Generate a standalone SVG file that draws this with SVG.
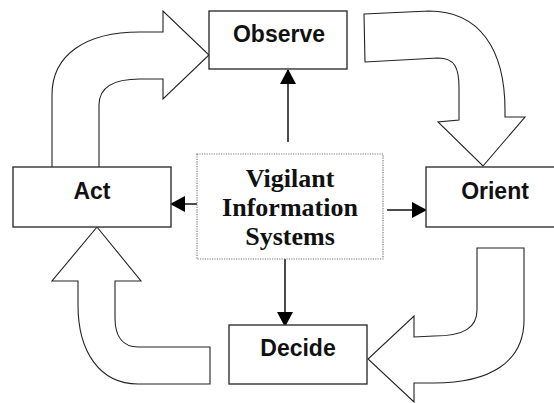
<svg xmlns="http://www.w3.org/2000/svg" width="554" height="403" viewBox="0 0 554 403">
<style>
.box{fill:#fff;stroke:#333;stroke-width:1.4}
.big{fill:#fff;stroke:#222;stroke-width:1.1;stroke-linejoin:miter}
.lbl{font-family:"Liberation Sans",Arial,sans-serif;font-weight:bold;font-size:23px;fill:#111;text-anchor:middle}
.ctr{font-family:"Liberation Serif","Times New Roman",serif;font-weight:bold;font-size:26px;fill:#111;text-anchor:middle}
.con{stroke:#111;stroke-width:1.5;fill:none;marker-end:url(#ah)}
</style>
<defs>
<marker id="ah" viewBox="0 0 15 16" refX="14" refY="8" markerWidth="15" markerHeight="16" orient="auto" markerUnits="userSpaceOnUse">
<path d="M0 0 L15 8 L0 16 Z" fill="#000"/>
</marker>
</defs>
<rect width="554" height="403" fill="#fff"/>
<g id="cycle-arrows">
<path id="act-to-observe" class="big" d="M52 168 L52 95 C52 55 85 32 140 32 L163 32 L163 11 L209 55 L163 99 L163 79 L140 79 C112 79 99 88 99 105 L99 168 Z"/>
<path id="observe-to-orient" class="big" d="M364 14 L429 11 C480 11 505 50 505 110 L505 117 L525 117 L483 166 L438 122 L459 120 L459 88 C459 68 455 58 438 58 L365 62 Z"/>
<path id="orient-to-decide" class="big" d="M477 248 L524 248 L524 320 C524 362 490 383 434 383 L414 383 L414 402 L368 359 L414 316 L414 337 L434 336 C465 336 477 327 477 310 Z"/>
<path id="decide-to-act" class="big" d="M210 347 L210 384 L138 384 C100 384 78 352 78 305 L78 281 L52 281 L97 227 L141 281 L115 281 L115 318 C115 338 124 347 138 347 Z"/>
</g>
<g id="connectors">
<line class="con" x1="288" y1="142" x2="288" y2="70"/>
<line class="con" x1="197" y1="204" x2="171" y2="204"/>
<line class="con" x1="387" y1="210" x2="426" y2="210"/>
<line class="con" x1="285" y1="259" x2="285" y2="326"/>
</g>
<g id="observe">
<rect class="box" x="209" y="11" width="138" height="58"/>
<text class="lbl" x="279" y="42">Observe</text>
</g>
<g id="orient">
<rect class="box" x="426" y="167" width="140" height="60"/>
<text class="lbl" x="495" y="199">Orient</text>
</g>
<g id="decide">
<rect class="box" x="229" y="325" width="138" height="59"/>
<text class="lbl" x="298" y="356">Decide</text>
</g>
<g id="act">
<rect class="box" x="13" y="167" width="158" height="60"/>
<text class="lbl" x="92" y="199">Act</text>
</g>
<g id="vis">
<rect x="197" y="154" width="186" height="105" fill="#fff" stroke="#777" stroke-width="1.2" stroke-dasharray="1.2 1.2"/>
<text class="ctr" x="290" y="187">Vigilant</text>
<text class="ctr" x="290" y="216">Information</text>
<text class="ctr" x="290" y="245">Systems</text>
</g>
</svg>
